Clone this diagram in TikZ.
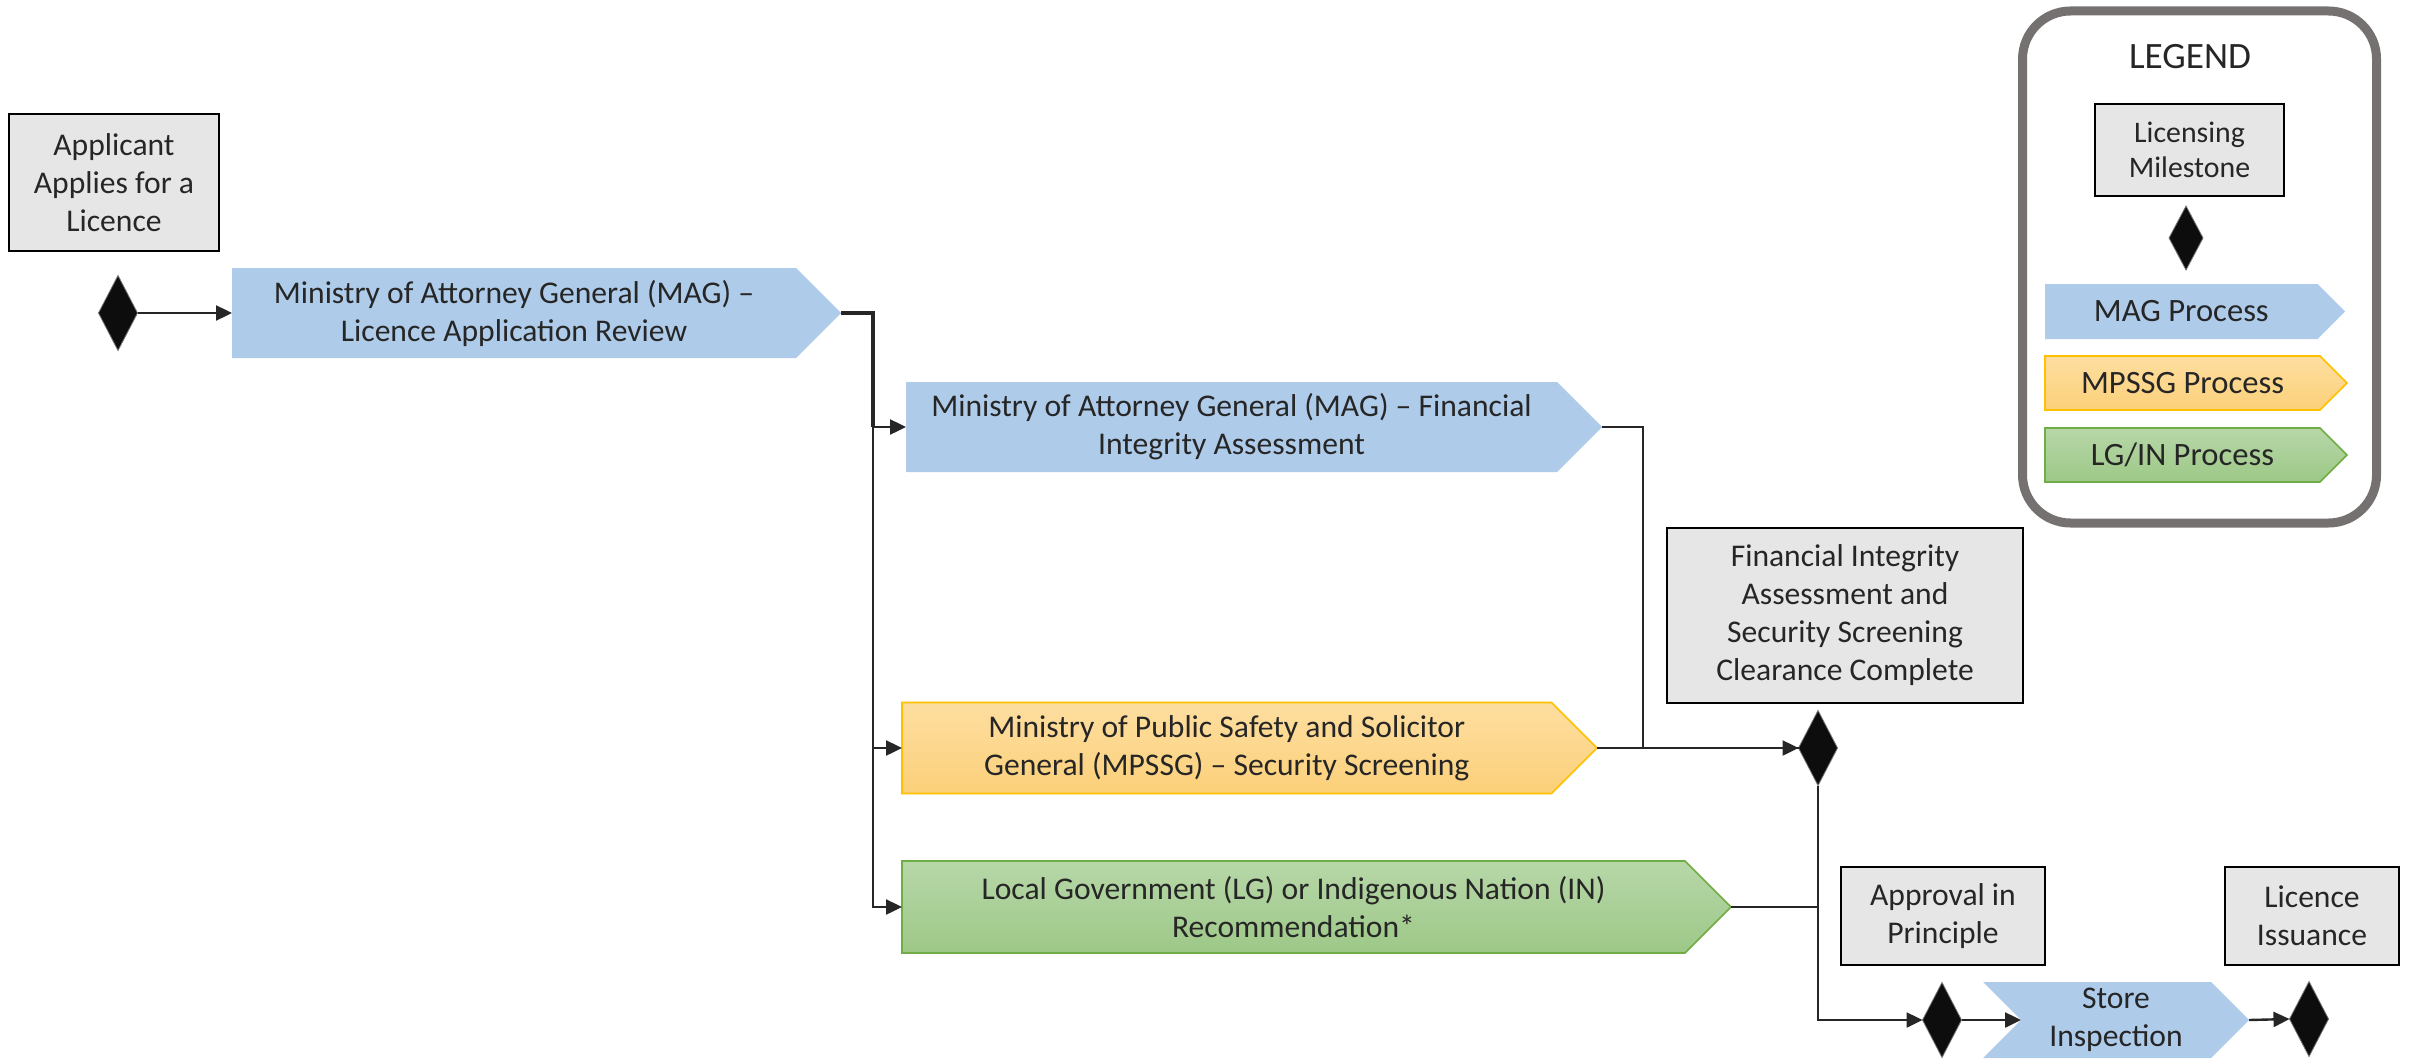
\documentclass[tikz,border=0pt]{standalone}
\usepackage{fontspec}
\setmainfont{Carlito}
\usetikzlibrary{shapes.geometric,shapes.symbols,arrows.meta,shadows}
\definecolor{magblue}{RGB}{174,203,233}
\definecolor{orgtop}{RGB}{253,222,160}
\definecolor{orgbot}{RGB}{252,208,122}
\definecolor{orgline}{RGB}{255,192,0}
\definecolor{grntop}{RGB}{183,215,168}
\definecolor{grnbot}{RGB}{157,200,135}
\definecolor{grnline}{RGB}{112,173,71}
\definecolor{msfill}{RGB}{231,230,230}
\definecolor{txt}{RGB}{38,38,38}
\definecolor{legline}{RGB}{118,113,113}
\tikzset{
  every node/.style={font=\fontsize{15.8}{19}\selectfont, text=txt, inner sep=0pt, outer sep=0pt, align=center},
  milestone/.style={rectangle, draw=black, line width=1.1pt, fill=msfill},
  ms/.style={diamond, fill=black!95, draw=black!55, line width=0.4pt, minimum width=19.5pt, minimum height=37.5pt},
  proc/.style={signal, signal to=east, signal pointer angle=90, anchor=west},
  magp/.style={proc, fill=magblue},
  mpsp/.style={proc, top color=orgtop, bottom color=orgbot, draw=orgline, line width=0.8pt},
  lgp/.style={proc, top color=grntop, bottom color=grnbot, draw=grnline, line width=0.8pt},
  legtext/.style={font=\fontsize{16.3}{19.5}\selectfont},
  conn/.style={draw=txt, line width=1.2pt},
  arr/.style={conn, -{Triangle[length=8pt,width=7.5pt]}},
}
\begin{document}
\begin{tikzpicture}[x=0.5pt, y=-0.5pt]
\useasboundingbox (0,0) rectangle (2412,1059);
% legend
\node[draw=legline, line width=4.5pt, rounded corners=24pt, fill=white,
      minimum width=177pt, minimum height=256pt,
      drop shadow={shadow xshift=1.2pt, shadow yshift=-1.5pt, opacity=0.3}] (legend) at (2199.5,267) {};
\node[font=\fontsize{18.6}{22}\selectfont] (legtitle) at (2190,57) {LEGEND};
\node[milestone, minimum width=94.5pt, minimum height=46pt, font=\fontsize{14.9}{17.8}\selectfont] (lm) at (2189.5,150) {Licensing\\Milestone};
\node[ms, minimum width=17pt, minimum height=32pt] (ld) at (2186,238) {};
\node[magp, legtext, minimum width=150pt, minimum height=27.5pt] (lmag) at (2045,311.5) {MAG Process};
\node[mpsp, legtext, minimum width=151pt, minimum height=27pt] (lmps) at (2045,383) {MPSSG Process};
\node[lgp, legtext, minimum width=151pt, minimum height=27pt] (llg) at (2045,455) {LG/IN Process};
% milestones
\node[milestone, minimum width=105pt, minimum height=68.5pt] (appl) at (114,182.5) {Applicant\\Applies for a\\Licence};
\node[milestone, minimum width=178pt, minimum height=87.5pt] (fi) at (1845,615.5) {Financial Integrity\\Assessment and\\Security Screening\\Clearance Complete};
\node[milestone, minimum width=102pt, minimum height=49pt] (appr) at (1943,916) {Approval in\\Principle};
\node[milestone, minimum width=87pt, minimum height=49pt] (lic) at (2312,916) {Licence\\Issuance};
% diamonds
\node[ms] (d1) at (118,313) {};
\node[ms] (d2) at (1818,748) {};
\node[ms] (d3) at (1942,1020) {};
\node[ms] (d4) at (2309,1019) {};
% processes
\node[magp, minimum width=304.5pt, minimum height=45pt] (mag1) at (232,313) {Ministry of Attorney General (MAG) –\\Licence Application Review};
\node[magp, minimum width=348pt, minimum height=45pt] (mag2) at (906,427) {Ministry of Attorney General (MAG) – Financial\\Integrity Assessment};
\node[mpsp, minimum width=347.5pt, minimum height=45.5pt] (mpssg) at (902,748) {Ministry of Public Safety and Solicitor\\General (MPSSG) – Security Screening};
\node[lgp, minimum width=414.5pt, minimum height=46pt] (lg) at (902,907) {Local Government (LG) or Indigenous Nation (IN)\\Recommendation*};
\node[proc, signal from=west, fill=magblue, minimum width=133pt, minimum height=38pt] (store) at (2021,1020) {Store\\Inspection};
% connectors
\draw[arr] (d1.east) -- (mag1.west);
\coordinate (bus) at ([xshift=16pt]mag1.east);
\draw[conn, line width=1.6pt] (mag1.east) -- (bus) -- (bus |- mag2.west);
\draw[arr] (bus) |- (mag2.west);
\draw[arr] (bus) |- (mpssg.west);
\draw[arr] (bus) |- (lg.west);
\draw[conn] (mag2.east) -- ++(41,0) |- (d2.west);
\draw[arr] (mpssg.east) -- (d2.west);
\draw[conn] (lg.east) -- (lg.east -| d2.south);
\draw[arr] (d2.south) |- (d3.west);
\draw[arr] (d3.east) -- (store.west);
\draw[arr] (store.east) -- (d4.west);
\end{tikzpicture}
\end{document}
